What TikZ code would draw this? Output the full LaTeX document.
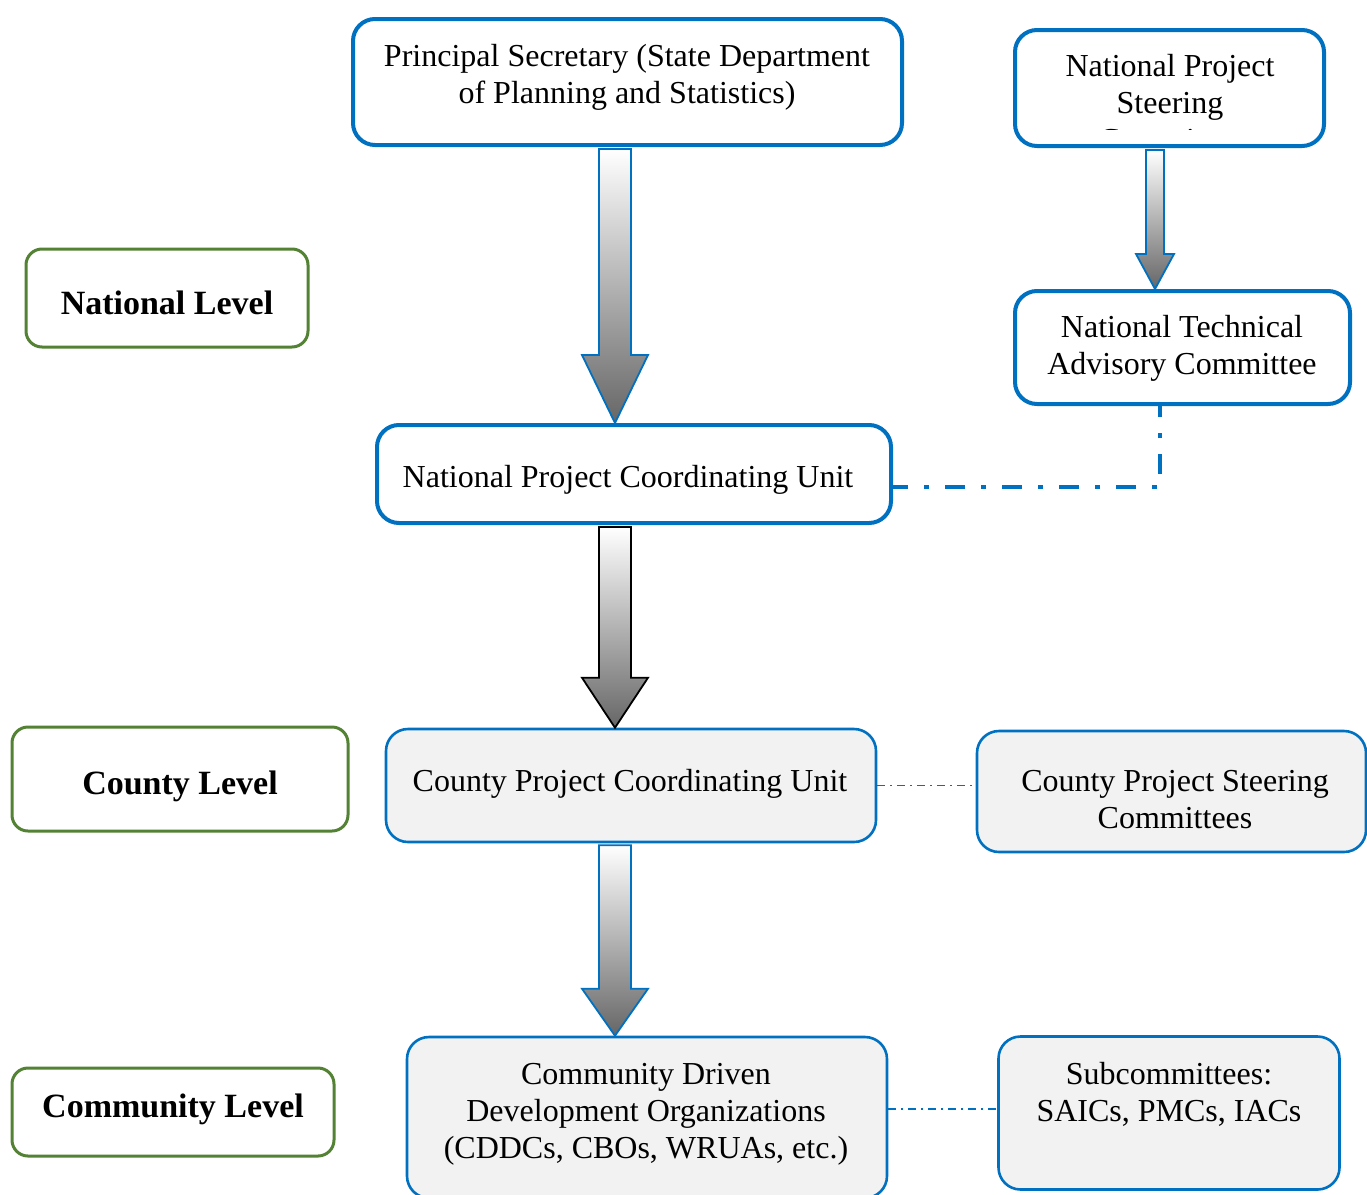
\documentclass[tikz,border=0pt]{standalone}
\usepackage{fontspec}
\setmainfont{Liberation Serif}
\usetikzlibrary{calc}

\definecolor{orgblue}{HTML}{0070C0}
\definecolor{lvlgreen}{HTML}{548235}
\definecolor{boxgray}{HTML}{F2F2F2}
\definecolor{arrowdark}{HTML}{666666}

\tikzset{
  txt/.style={align=center, font=\fontsize{32}{37}\selectfont, inner sep=0pt},
  lvltxt/.style={align=center, font=\fontsize{34}{40}\selectfont\bfseries, inner sep=0pt},
  unitbox/.style={draw=orgblue, line width=4pt, rounded corners=22pt, fill=white, inner sep=0pt},
  countybox/.style={draw=orgblue, line width=2.6pt, rounded corners=22pt, fill=boxgray, inner sep=0pt},
  levelbox/.style={draw=lvlgreen, line width=3pt, rounded corners=16pt, fill=white, inner sep=0pt},
  flowarrow/.style={top color=white, bottom color=arrowdark, draw=#1, line width=1.8pt, line join=miter},
  linkthick/.style={draw=orgblue, line width=4pt, dash pattern=on 20pt off 16pt on 5pt off 16pt, dash phase=2pt},
  linkthin/.style={draw=orgblue, line width=1.5pt, dash pattern=on 8pt off 5pt on 2pt off 5pt},
}

% block arrow: colour, start, tip, half shaft width, half head width, head length
\newcommand\blockarrow[6]{%
  \path[flowarrow=#1] let \p1=(#2), \p2=(#3) in
    (\x1-#4pt,\y1) -- (\x1+#4pt,\y1) -- (\x1+#4pt,\y2+#6pt) -- (\x1+#5pt,\y2+#6pt)
    -- (\x2,\y2) -- (\x1-#5pt,\y2+#6pt) -- (\x1-#4pt,\y2+#6pt) -- cycle;}

\begin{document}
\begin{tikzpicture}[x=1pt,y=-1pt]
  \useasboundingbox (0,0) rectangle (1367,1194);
  \clip (0,0) rectangle (1367,1194);
  \fill[white] (0,0) rectangle (1367,1194);

  % level labels
  \node[levelbox, minimum width=282pt, minimum height=98pt]  (natlvl) at (167,298) {};
  \node[levelbox, minimum width=336pt, minimum height=104pt] (cntlvl) at (180,779) {};
  \node[levelbox, minimum width=322pt, minimum height=88pt]  (comlvl) at (173,1112) {};

  % national level
  \node[unitbox, minimum width=549pt, minimum height=126pt] (ps)   at (627.5,82) {};
  \node[unitbox, minimum width=309pt, minimum height=116pt] (npsc) at (1169.5,88) {};
  \node[unitbox, minimum width=335pt, minimum height=113pt] (ntac) at (1182.5,347.5) {};
  \node[unitbox, minimum width=514pt, minimum height=98pt]  (npcu) at (634,474) {};

  % county level
  \node[countybox, minimum width=490pt, minimum height=113pt] (cpcu) at (631,785.5) {};
  \node[countybox, minimum width=389pt, minimum height=121pt] (cpsc) at (1171.5,791.5) {};

  % community level
  \node[countybox, minimum width=480pt, minimum height=161pt] (cddo) at (647,1117.5) {};
  \node[countybox, minimum width=341pt, minimum height=153pt] (sub)  at (1169,1113) {};

  % arrow axes
  \coordinate (mainaxis) at (615,0);
  \coordinate (sideaxis) at (1155,0);
  \coordinate (a1s) at ($(ps.south -| mainaxis)+(0,2)$);
  \coordinate (a1e) at (npcu.north -| mainaxis);
  \coordinate (a2s) at ($(npsc.south -| sideaxis)+(0,2)$);
  \coordinate (a2e) at (ntac.north -| sideaxis);
  \coordinate (a3s) at ($(npcu.south -| mainaxis)+(0,2)$);
  \coordinate (a3e) at (cpcu.north -| mainaxis);
  \coordinate (a4s) at ($(cpcu.south -| mainaxis)+(0,2)$);
  \coordinate (a4e) at (cddo.north -| mainaxis);

  \blockarrow{orgblue}{a1s}{a1e}{16}{33}{68}
  \blockarrow{orgblue}{a2s}{a2e}{9}{19}{35}
  \blockarrow{black}{a3s}{a3e}{16}{33}{50}
  \blockarrow{orgblue}{a4s}{a4e}{16}{33}{47}

  % advisory and steering links
  \draw[linkthick] ($(npcu.east)+(-3,13)$) -| ($(ntac.south)+(-22.5,0)$);
  \draw[linkthin] (cpcu.east) -- (cpcu.east -| cpsc.west);
  \coordinate (sublink) at ($(cddo.east)+(0,-8.5)$);
  \draw[linkthin] (sublink) -- (sublink -| sub.west);

  % texts
  \node[lvltxt] (natlvltxt) at (167,302.5) {National Level};
  \node[lvltxt] (cntlvltxt) at (180,786) {County Level};
  \node[lvltxt] (comlvltxt) at (173,1109) {Community Level};

  \node[txt] (pstxt) at (627,77.5) {Principal Secretary (State Department\\of Planning and Statistics)};
  \begin{scope}
    \clip (1016,31) rectangle (1323,129);
    \node[txt] (npsctxt) at (1170,103) {National Project\\Steering\\Committee};
  \end{scope}
  \node[txt] (ntactxt) at (1182,348) {National Technical\\Advisory Committee};
  \node[txt] (npcutxt) at (628,480) {National Project Coordinating Unit};
  \node[txt] (cpcutxt) at (630,784) {County Project Coordinating Unit};
  \node[txt] (cpsctxt) at (1175,800) {County Project Steering\\Committees};
  \node[txt] (cddotxt) at (646,1114.5) {Community Driven\\Development Organizations\\(CDDCs, CBOs, WRUAs, etc.)};
  \node[txt] (subtxt)  at (1169,1094.5) {Subcommittees:\\SAICs, PMCs, IACs};
\end{tikzpicture}
\end{document}
